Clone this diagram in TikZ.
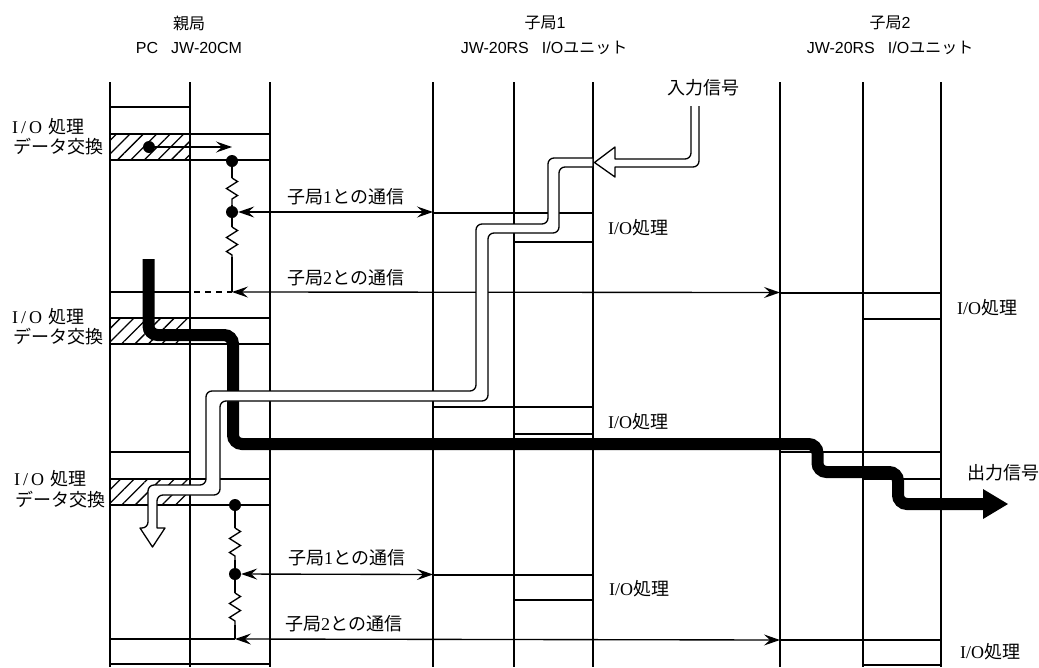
\documentclass[tikz,border=0pt]{standalone}
\usepackage{fontspec}
\usetikzlibrary{arrows.meta,patterns.meta,decorations.pathmorphing}
\setmainfont{Liberation Serif}
\newfontfamily\jp{Noto Sans CJK JP}
\newfontfamily\hd{Liberation Sans}
\newcommand{\lbl}[1]{{\jp #1}}
\tikzset{
  x=1pt,y=-1pt,
  rule/.style={line width=1.35pt,black},
  hatchbox/.style={pattern={Lines[angle=45,distance=9.5pt,line width=1.3pt]},pattern color=black},
  dotnode/.style={circle,fill=black,inner sep=0pt,minimum size=12pt},
  txt/.style={inner sep=0pt,font=\fontsize{18}{20}\selectfont},
  head/.style={inner sep=0pt,font=\hd\fontsize{16}{18}\selectfont},
  barb/.style={-{Stealth[length=16pt,width=11pt,inset=6pt]}},
  dbarb/.style={{Stealth[length=16pt,width=11pt,inset=6pt]}-{Stealth[length=16pt,width=11pt,inset=6pt]}},
  resistor/.style={decorate,decoration={zigzag,segment length=14pt,amplitude=5.5pt}},
  flow/.style={line width=1.3pt,draw=black,fill=white,line join=round},
  thickflow/.style={line width=12pt,black,rounded corners=9pt}
}
\begin{document}
\begin{tikzpicture}
\useasboundingbox (0,0) rectangle (1039,667);
% hatched bands
\fill[hatchbox] (110,134) rectangle (190,160);
\fill[hatchbox] (110,318) rectangle (190,344);
\fill[hatchbox] (110,479) rectangle (190,505);
% vertical lanes
\foreach \xx in {110,190,270,433,514,593,780,863,941}
  \draw[rule] (\xx,82) -- (\xx,667);
% horizontal bands: master
\draw[rule] (110,107) -- (190,107);
\draw[rule] (110,134) -- (270,134);
\draw[rule] (110,160) -- (270,160);
\draw[rule] (110,292) -- (190,292);
\draw[rule] (110,318) -- (270,318);
\draw[rule] (110,344) -- (270,344);
\draw[rule] (110,452) -- (190,452);
\draw[rule] (110,479) -- (270,479);
\draw[rule] (110,505) -- (270,505);
\draw[rule] (110,664) -- (270,664);
% horizontal bands: stations
\draw[rule] (433,213) -- (593,213);
\draw[rule] (514,242) -- (593,242);
\draw[rule] (433,407) -- (593,407);
\draw[rule] (514,434) -- (593,434);
\draw[rule] (433,575) -- (593,575);
\draw[rule] (514,600) -- (593,600);
\draw[rule] (780,293) -- (941,293);
\draw[rule] (863,319) -- (941,319);
\draw[rule] (780,452) -- (941,452);
\draw[rule] (863,479) -- (941,479);
\draw[rule] (780,640) -- (941,640);
\draw[rule] (863,665) -- (941,665);
% junctions
\node[dotnode] (a0) at (149,147) {};
\coordinate (a1) at (232,147);
\node[dotnode] (b1) at (232,161) {};
\node[dotnode] (b2) at (232,212) {};
\coordinate (b3) at (232,292);
\coordinate (r1) at (232,178);
\coordinate (r2) at (232,205);
\coordinate (r3) at (232,227);
\coordinate (r4) at (232,257);
\coordinate (s1) at (433,212);
\coordinate (s2) at (780,292.5);
\coordinate (dash0) at (194,292);
\node[dotnode] (c1) at (235,505) {};
\node[dotnode] (c2) at (235,574) {};
\coordinate (c3) at (235,639);
\coordinate (q1) at (235,528);
\coordinate (q2) at (235,560);
\coordinate (q3) at (235,593);
\coordinate (q4) at (235,625);
\coordinate (s3) at (433,574.5);
\coordinate (s4) at (780,640);
\coordinate (l0) at (110,639);
% signal connectors
\draw[rule,barb] (a0) -- (a1);
\draw[rule] (b1) -- (r1);
\draw[rule,resistor] (r1) -- (r2);
\draw[rule] (r2) -- (b2) -- (r3);
\draw[rule,resistor] (r3) -- (r4);
\draw[rule] (r4) -- (b3);
\draw[rule,dbarb] (b2) -- (s1);
\draw[rule,dbarb] (b3) -- (s2);
\draw[rule,dashed,dash pattern=on 6pt off 5pt] (dash0) -- (b3);
\draw[rule] (c1) -- (q1);
\draw[rule,resistor] (q1) -- (q2);
\draw[rule] (q2) -- (c2) -- (q3);
\draw[rule,resistor] (q3) -- (q4);
\draw[rule] (q4) -- (c3);
\draw[rule,dbarb] (c2) -- (s3);
\draw[rule,dbarb] (c3) -- (s4);
\draw[rule] (l0) -- (c3);
% thick output flow
\draw[thickflow] (148.5,259) -- (148.5,335) -- (233,335) -- (233,444) -- (817.5,444)
  -- (817.5,472) -- (898,472) -- (898,504) -- (985,504);
\fill[black] (983,489) -- (1008,504) -- (983,519) -- cycle;
% white input flow
\draw[flow,rounded corners=6pt] (593,158) -- (548,158) -- (548,224) -- (476,224) -- (476,391)
  -- (206,391) -- (206,485) -- (148,485) -- (148,528) [sharp corners] -- (140,528)
  -- (152.5,547) -- (165,528) -- (157,528) [rounded corners=6pt] -- (157,495) -- (220,495)
  -- (220,401) -- (488,401) -- (488,233) -- (559,233) -- (559,167) [sharp corners] -- (593,167) -- cycle;
\draw[flow,rounded corners=6pt] (691,106) -- (691,159) [sharp corners] -- (615,159) -- (615,147)
  -- (594.5,162.5) -- (615,177) -- (615,167) [rounded corners=6pt] -- (699,167) -- (699,106);
% headings
\node[head] (h1) at (189,23) {\lbl{親局}};
\node[head] (h2) at (189,47.5) {PC\hspace{13pt}JW-20CM};
\node[head] (h3) at (545,23) {\lbl{子局}1};
\node[head] (h4) at (544,47.5) {JW-20RS\hspace{13pt}I/O\lbl{ユニット}};
\node[head] (h5) at (890,23) {\lbl{子局}2};
\node[head] (h6) at (890,47.5) {JW-20RS\hspace{13pt}I/O\lbl{ユニット}};
% left labels
\node[txt,anchor=west] (l1) at (12,127) {I\,/\,O\hspace{6pt}\lbl{処理}};
\node[txt,anchor=west] (l2) at (13,147) {\lbl{データ交換}};
\node[txt,anchor=west] (l3) at (12,317) {I\,/\,O\hspace{6pt}\lbl{処理}};
\node[txt,anchor=west] (l4) at (13,337) {\lbl{データ交換}};
\node[txt,anchor=west] (l5) at (14,479) {I\,/\,O\hspace{6pt}\lbl{処理}};
\node[txt,anchor=west] (l6) at (15,500) {\lbl{データ交換}};
% communication labels
\node[txt,anchor=west] (m1) at (287,197) {\lbl{子局}1\lbl{との通信}};
\node[txt,anchor=west] (m2) at (287,278) {\lbl{子局}2\lbl{との通信}};
\node[txt,anchor=west] (m3) at (288,558) {\lbl{子局}1\lbl{との通信}};
\node[txt,anchor=west] (m4) at (285,624) {\lbl{子局}2\lbl{との通信}};
% process labels
\node[txt,anchor=west] (p1) at (608,228) {I/O\lbl{処理}};
\node[txt,anchor=west] (p2) at (957,308) {I/O\lbl{処理}};
\node[txt,anchor=west] (p3) at (608,422) {I/O\lbl{処理}};
\node[txt,anchor=west] (p4) at (609,589) {I/O\lbl{処理}};
\node[txt,anchor=west] (p5) at (960,652) {I/O\lbl{処理}};
% signal labels
\node[txt,anchor=west] (i1) at (667,88) {\lbl{入力信号}};
\node[txt,anchor=west] (o1) at (967,473) {\lbl{出力信号}};
\end{tikzpicture}
\end{document}
